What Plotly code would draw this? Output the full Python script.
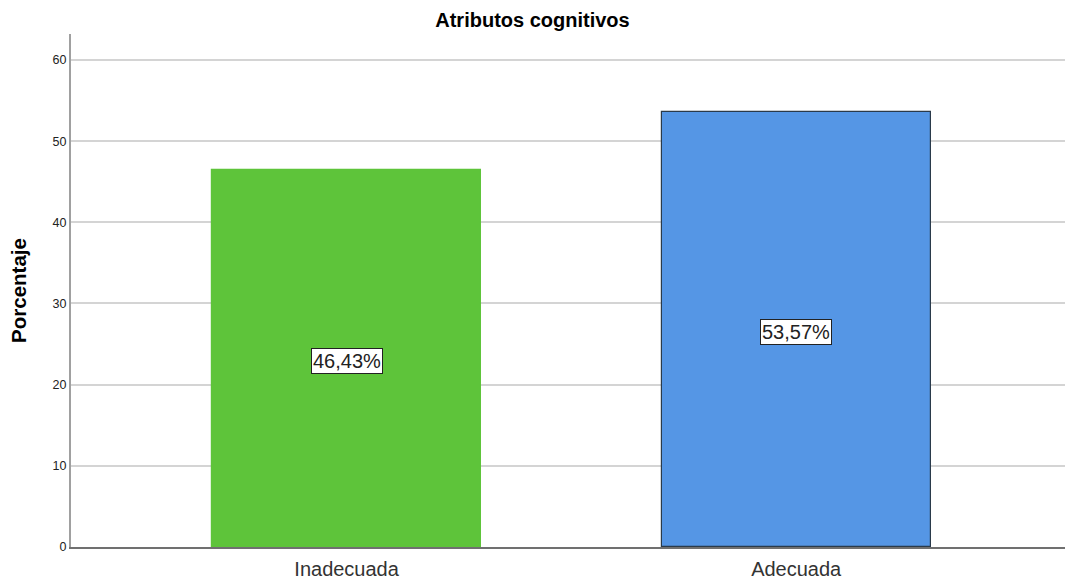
import plotly.graph_objects as go

categories = ["Inadecuada", "Adecuada"]
values = [46.43, 53.57]
labels = ["46,43%", "53,57%"]
colors = ["#5ec43a", "#5596e5"]
line_colors = ["#5ec43a", "#2a3a4a"]
yticks = [0, 10, 20, 30, 40, 50, 60]

fig = go.Figure()
fig.add_trace(go.Bar(
    x=list(range(len(categories))), y=values, width=0.598,
    marker=dict(color=colors, line=dict(color=line_colors, width=1.2)),
    showlegend=False, hoverinfo="skip",
))
for i, (v, t) in enumerate(zip(values, labels)):
    fig.add_annotation(x=i, y=v / 2, yshift=-2, text=t, showarrow=False,
                       font=dict(family="Liberation Sans, Arial", size=20, color="#222222"),
                       bgcolor="white", bordercolor="#222222", borderwidth=1, borderpad=1)

fig.update_layout(
    width=1065, height=580,
    margin=dict(l=71, r=0, t=34, b=33),
    paper_bgcolor="white", plot_bgcolor="white",
    title=dict(text="<b>Atributos cognitivos</b>", x=0.5, xanchor="center", y=0.965, yanchor="middle",
               font=dict(family="Liberation Sans, Arial", size=20, color="#000000")),
    xaxis=dict(tickmode="array", tickvals=list(range(len(categories))), ticktext=categories,
               range=[-0.613, 1.598], showgrid=False, showline=True, linecolor="#707070", linewidth=1.5,
               ticks="", ticklabelstandoff=3,
               tickfont=dict(family="Liberation Sans, Arial", size=20, color="#333333"), zeroline=False),
    yaxis=dict(range=[0, 63.2], tickvals=yticks, showgrid=True, gridcolor="#d4d4d4", gridwidth=2,
               showline=True, linecolor="#a0a0a0", linewidth=2, ticks="", zeroline=False,
               tickfont=dict(family="Liberation Sans, Arial", size=12.5, color="#222222"),
               title=dict(text="<b>Porcentaje</b>", standoff=20,
                          font=dict(family="Liberation Sans, Arial", size=20.5, color="#000000"))),
    bargap=0,
)
fig.write_html("out.html", config={"displayModeBar": False},
               post_script="document.body.style.margin='0';document.body.style.overflow='hidden';")
